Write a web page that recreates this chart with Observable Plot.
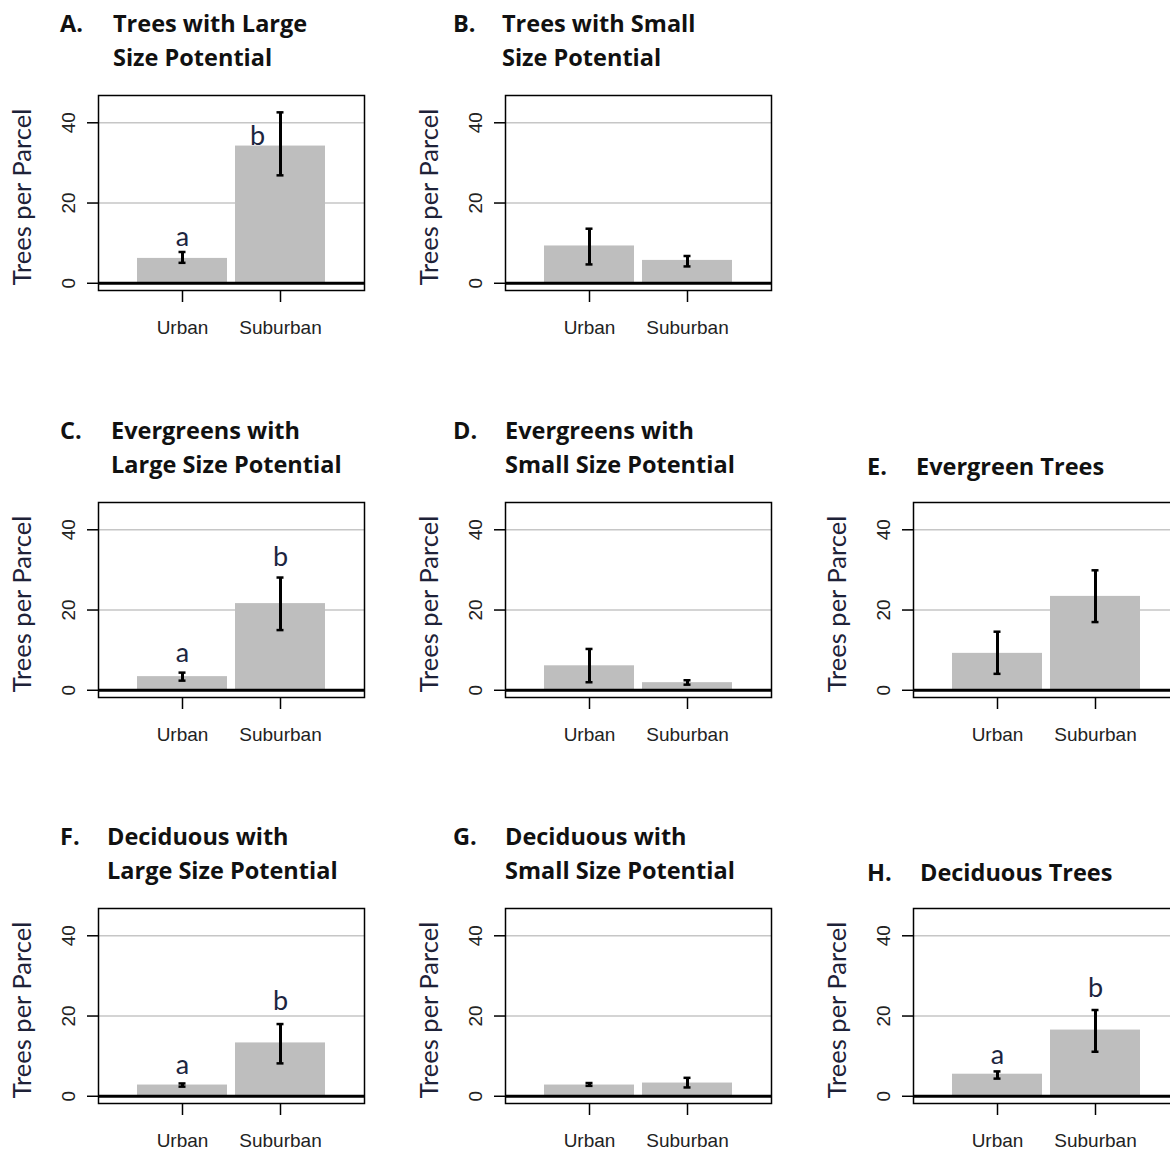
<!DOCTYPE html>
<html><head><meta charset="utf-8">
<script src="https://cdn.jsdelivr.net/npm/d3@7"></script>
<script src="https://cdn.jsdelivr.net/npm/@observablehq/plot@0.6"></script>
<style>
body{margin:0;background:#fff;}
#wrap{position:relative;width:1170px;height:1152px;overflow:hidden;background:#fff;}
.panel{position:absolute;width:406px;}
.panel svg{max-width:none !important;}
</style></head><body><div id="wrap"></div>
<script>
// ---- data ----
const panelIds = ["A","B","C","D","E","F","G","H"];
const titleLine1 = ["Trees with Large","Trees with Small","Evergreens with","Evergreens with","","Deciduous with","Deciduous with",""];
const titleLine2 = ["Size Potential","Size Potential","Large Size Potential","Small Size Potential","Evergreen Trees","Large Size Potential","Small Size Potential","Deciduous Trees"];
const categories = ["Urban","Suburban"];
const urbanMean    = [6.2, 9.3, 3.4, 6.1, 9.2, 2.8, 2.8, 5.5];
const urbanLow     = [5.1, 4.7, 2.4, 2.0, 4.1, 2.4, 2.6, 4.4];
const urbanHigh    = [7.8, 13.6, 4.4, 10.3, 14.6, 3.2, 3.3, 6.2];
const suburbanMean = [34.2, 5.7, 21.6, 1.9, 23.4, 13.3, 3.3, 16.5];
const suburbanLow  = [26.9, 4.2, 15.0, 1.4, 17.0, 8.2, 2.2, 11.1];
const suburbanHigh = [42.6, 6.8, 28.1, 2.5, 29.9, 18.0, 4.6, 21.5];
const urbanLetter    = ["a","","a","","","a","","a"];
const suburbanLetter = ["b","","b","","","b","","b"];
const urbanLetterY    = [11.5, null, 9.2, null, null, 7.8, null, 10.3];
const suburbanLetterY = [36.6, null, 33.1, null, null, 23.6, null, 26.9];
const yTicks = [0, 20, 40];
const yDomain = [-1.8, 46.8];
const yLabel = "Trees per Parcel";

// ---- layout (positions, not data) ----
const colBoxLeft = [98, 504.5, 912.7];
const rowBoxTop = [95, 501.7, 908.3];
const slot = [[0,0],[0,1],[1,0],[1,1],[1,2],[2,0],[2,1],[2,2]];
const titleLetterX = [60, 453, 60, 453, 867, 60, 453, 867];
const titleTextX = [113, 502, 111, 505, 916, 107, 505, 920];
const suburbanLetterDx = [-23, 0, 0, 0, 0, 0, 0, 0];

const W = 406, H = 350, mL = 98, mR = 42, mT = 95, mB = 60;
const wrap = document.getElementById("wrap");

panelIds.forEach((id, i) => {
  const [r, c] = slot[i];
  const left = colBoxLeft[c] - mL, top = rowBoxTop[r] - mT;
  const rows = [
    {cat: categories[0], mean: urbanMean[i], lo: urbanLow[i], hi: urbanHigh[i]},
    {cat: categories[1], mean: suburbanMean[i], lo: suburbanLow[i], hi: suburbanHigh[i]}
  ];
  const letters = [];
  if (urbanLetter[i]) letters.push({cat: categories[0], y: urbanLetterY[i], t: urbanLetter[i], dx: 0});
  if (suburbanLetter[i]) letters.push({cat: categories[1], y: suburbanLetterY[i], t: suburbanLetter[i], dx: suburbanLetterDx[i]});

  const chart = Plot.plot({
    width: W, height: H,
    marginLeft: mL, marginRight: mR, marginTop: mT, marginBottom: mB,
    style: {fontFamily: "'Liberation Sans', Arial, sans-serif", fontSize: "19px", color: "#000", background: "transparent", overflow: "visible", maxWidth: "none"},
    x: {domain: categories, paddingInner: 0.077, paddingOuter: 0.386, axis: null},
    y: {domain: yDomain, axis: null},
    marks: [
      Plot.ruleY([20, 40], {stroke: "#c6c6c6", strokeWidth: 1.5}),
      Plot.barY(rows, {x: "cat", y1: 0, y2: "mean", fill: "#bebebe"}),
      Plot.ruleY([0], {stroke: "#000", strokeWidth: 3}),
      Plot.ruleX(rows, {x: "cat", y1: "lo", y2: "hi", stroke: "#000", strokeWidth: 3}),
      Plot.tickY(rows, {x: "cat", y: "hi", insetLeft: 41.5, insetRight: 41.5, stroke: "#000", strokeWidth: 2.5}),
      Plot.tickY(rows, {x: "cat", y: "lo", insetLeft: 41.5, insetRight: 41.5, stroke: "#000", strokeWidth: 2.5}),
      ...letters.map(d => Plot.text([d], {x: "cat", y: "y", text: "t", dx: d.dx, fontSize: 27, fontFamily: "Lato, 'Open Sans', sans-serif", fill: "#1c2540"})),
      Plot.frame({stroke: "#000", strokeWidth: 1.5}),
      Plot.axisY({ticks: yTicks, tickSize: 11, tickRotate: -90, tickPadding: 13, fontSize: 19, strokeWidth: 1.5, fill: "#222", label: null}),
      Plot.axisX({tickSize: 12, tickPadding: 18, fontSize: 19, strokeWidth: 1.5, fill: "#222", label: null}),
      Plot.text([yLabel], {frameAnchor: "left", textAnchor: "middle", rotate: -90, dx: -76, dy: 4, fontSize: 25.5, fontFamily: "Lato, 'Open Sans', sans-serif", fill: "#1e2238"})
    ]
  });
  const div = document.createElement("div");
  div.className = "panel";
  div.style.left = left + "px";
  div.style.top = top + "px";
  div.appendChild(chart);
  wrap.appendChild(div);
});

// titles overlay
const ov = d3.select(wrap).append("svg")
  .attr("width", 1170).attr("height", 1152)
  .style("position", "absolute").style("left", 0).style("top", 0).style("pointer-events", "none");
panelIds.forEach((id, i) => {
  const [r, c] = slot[i];
  const oy = rowBoxTop[r] - mT;
  const two = titleLine1[i] !== "";
  const g = ov.append("g").attr("font-family", "'Open Sans', Lato, sans-serif").attr("font-weight", 700).attr("font-size", 23.5).attr("fill", "#111");
  g.append("text").attr("x", titleLetterX[i]).attr("y", oy + (two ? 32 : 68)).text(id + ".");
  if (two) g.append("text").attr("x", titleTextX[i]).attr("y", oy + 32).text(titleLine1[i]);
  g.append("text").attr("x", titleTextX[i]).attr("y", oy + (two ? 66 : 68)).text(titleLine2[i]);
});
</script></body></html>
